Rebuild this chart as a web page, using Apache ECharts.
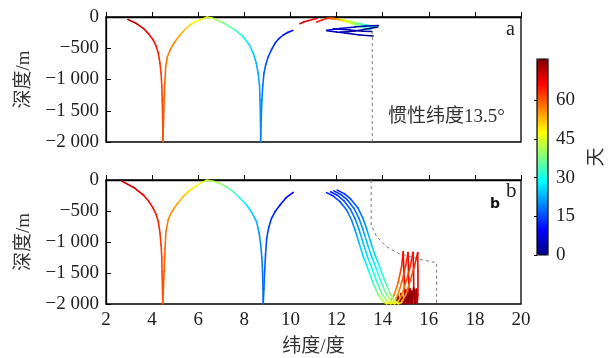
<!DOCTYPE html>
<html>
<head>
<meta charset="utf-8">
<script src="https://cdn.jsdelivr.net/npm/echarts@6/dist/echarts.min.js"></script>
<style>
  html, body { margin: 0; padding: 0; background: #fff; }
  #main { width: 614px; height: 358px; }
</style>
</head>
<body>
<div id="main"></div>
<script>
// 纬度/度, 深度/m, 天
var latTicks = [2, 20, 2];          // min, max, interval
var depthTicks = [-2000, 0, 500];
var dayTicks = [0, 15, 30, 45, 60];
var dayMax = 76;

// 图a: 惯性纬度13.5°
var aMain = [
  [2.95,-40,72],[3.3,-100,71],[3.62,-181,69],[3.85,-270,67],[4.05,-368,66],[4.18,-470,65],[4.27,-581,64],
  [4.34,-740,63],[4.39,-901,62.5],[4.42,-1100,62],[4.44,-1328,61.5],[4.46,-1650,61],[4.47,-1995,60.5],
  [4.5,-1600,60],[4.52,-1328,59.5],[4.55,-1050,59],[4.59,-795,58],[4.66,-640,57.5],[4.78,-528,57],
  [4.98,-400,56],[5.21,-288,54],[5.42,-200,52],[5.64,-128,50],[5.86,-80,48],[6.08,-48,47],[6.37,-2,45],
  [6.6,-15,43],[6.8,-48,41],[7.1,-95,38],[7.38,-155,36],[7.68,-230,33],[7.95,-315,30],[8.2,-440,27],
  [8.39,-581,25],[8.52,-740,23],[8.6,-901,22],[8.66,-1100,21.5],[8.68,-1328,21],[8.7,-1650,20.5],[8.71,-1995,20],
  [8.73,-1650,19.5],[8.76,-1328,19],[8.8,-1100,18],[8.85,-901,17],[8.93,-760,16],[9.04,-635,15],
  [9.18,-520,14],[9.33,-421,13],[9.5,-345,12],[9.69,-288,11],[9.9,-245,10],[10.1,-215,9]
];
var aRed1 = [[10.41,-107,70],[10.6,-75,69],[10.76,-59,68],[11.0,-35,67],[11.14,-27,66]];
var aRain1 = [[11.14,-80,66],[11.37,-48,64],[11.57,-24,62],[11.75,-20,58],[11.93,-27,54],[12.2,-40,50],
  [12.44,-56,47],[12.62,-72,43],[12.8,-88,40],[13.05,-108,35],[13.3,-128,30],[13.5,-142,26],[13.7,-152,23]];
var aRain2 = [[11.6,-20,63],[11.9,-25,57],[12.2,-45,51],[12.44,-75,46],[12.75,-100,41],[13.01,-120,36],
  [13.3,-148,31],[13.53,-168,27]];
var aRain3 = [[11.7,-22,62],[12.0,-35,55],[12.3,-60,49],[12.6,-95,44],[12.9,-140,38],[13.2,-175,33],[13.49,-200,29]];
var aBlue1 = [[11.57,-213,7],[12.15,-184,6],[12.8,-160,4],[13.27,-144,3],[13.81,-136,2]];
var aBlue2 = [[11.57,-219,6],[12.0,-240,5],[12.36,-256,4],[13.01,-288,3],[13.59,-304,1]];
var aBlue3 = [[11.86,-187,5],[12.58,-208,4],[13.14,-229,2],[13.52,-232,1]];
var aBlue4 = [[12.15,-240,4],[12.5,-235,3],[12.8,-224,3],[13.44,-184,1],[13.79,-160,0]];
var aDash = [[13.55,-130],[13.55,-2000]];

// 图b
var bMain = [
  [2.68,-15,71],[3.2,-120,70],[3.62,-242,68],[3.85,-340,67],[4.05,-457,66],[4.18,-560,65],[4.27,-672,64],
  [4.34,-850,63],[4.39,-1048,62.5],[4.42,-1250,62],[4.43,-1479,61.5],[4.45,-1750,61],[4.46,-2000,60.5],
  [4.49,-1750,60],[4.52,-1479,59.5],[4.56,-1100,59],[4.6,-834,58],[4.7,-640,57],[4.85,-511,56],
  [5.1,-380,54],[5.35,-269,52],[5.6,-180,50],[5.86,-108,48],[6.1,-50,46],[6.37,-3,44],
  [6.65,-20,42],[6.94,-54,40],[7.23,-110,37],[7.52,-188,34],[7.8,-290,31],[8.1,-403,28],[8.33,-530,25],
  [8.53,-672,23],[8.64,-850,21],[8.71,-1048,20],[8.76,-1250,19],[8.79,-1479,18.5],[8.81,-1750,18],[8.82,-2000,17.5],
  [8.85,-1750,17],[8.88,-1479,16.5],[8.92,-1200,16],[8.97,-940,15],[9.06,-760,14],[9.18,-618,13],
  [9.35,-500,12],[9.55,-403,11],[9.8,-290,10],[10.12,-200,9]
];
var bRay1 = [[11.57,-204,11],[11.86,-258,13],[12.15,-350,15],[12.44,-484,17],[12.65,-645,19],[12.8,-807,21],
  [12.98,-1021,24],[13.16,-1237,26],[13.38,-1452,29],[13.59,-1667,33],[13.81,-1855,38],[14.03,-1963,43],
  [14.17,-1995,47],[14.32,-1975,52],[14.5,-1850,56],[14.68,-1640,60],[14.82,-1398,63],[14.89,-1160,66],
  [14.92,-1450,68],[14.95,-1800,69],[14.98,-1960,70],[15.01,-1780,71],[15.04,-1990,72],[15.07,-1800,72],
  [15.1,-1985,73],[15.0,-1820,73],[14.9,-1990,74],[14.8,-1830,74],[14.72,-1995,75],[14.66,-1860,75],[14.6,-1995,75]];
var bRay2 = [[11.74,-190,11],[12.03,-245,13],[12.32,-335,15],[12.6,-470,17],[12.81,-630,19],[12.97,-795,21],
  [13.15,-1010,24],[13.33,-1225,26],[13.55,-1440,29],[13.76,-1655,33],[13.98,-1845,38],[14.2,-1960,43],
  [14.34,-1995,47],[14.48,-1975,52],[14.66,-1850,56],[14.85,-1620,60],[15.0,-1380,63],[15.1,-1170,66],
  [15.12,-1460,68],[15.14,-1820,69],[15.17,-1970,70],[15.2,-1770,71],[15.23,-1990,72],[15.26,-1790,72],
  [15.29,-1985,73],[15.18,-1800,73],[15.08,-1990,74],[14.98,-1810,74],[14.88,-1995,75],[14.8,-1850,75],[14.74,-1990,75]];
var bRay3 = [[11.88,-175,11],[12.18,-232,13],[12.47,-322,15],[12.76,-458,17],[12.97,-618,19],[13.13,-782,21],
  [13.31,-998,24],[13.5,-1212,26],[13.72,-1428,29],[13.93,-1645,33],[14.15,-1838,38],[14.37,-1958,43],
  [14.51,-1995,47],[14.65,-1975,52],[14.83,-1850,56],[15.03,-1620,60],[15.2,-1390,63],[15.32,-1165,66],
  [15.34,-1470,68],[15.35,-1830,69],[15.37,-1975,70],[15.4,-1780,71],[15.43,-1990,72],[15.35,-1790,73],
  [15.27,-1990,73],[15.19,-1760,74],[15.11,-1995,74],[15.03,-1780,75],[14.95,-1995,75]];
var bRay4 = [[12.03,-163,11],[12.33,-220,13],[12.62,-310,15],[12.92,-446,17],[13.13,-606,19],[13.29,-770,21],
  [13.47,-986,24],[13.66,-1200,26],[13.88,-1416,29],[14.1,-1633,33],[14.32,-1830,38],[14.54,-1955,43],
  [14.68,-1995,47],[14.82,-1975,52],[15.0,-1850,56],[15.2,-1620,60],[15.38,-1390,63],[15.52,-1170,66],
  [15.53,-1480,68],[15.53,-1850,70],[15.5,-1980,71],[15.46,-1760,72],[15.42,-1990,73],[15.34,-1740,74],
  [15.26,-1990,74],[15.18,-1800,75],[15.1,-1990,75]];
var bDash = [[13.5,0],[13.5,-726],[13.74,-914],[14.17,-1076],[14.68,-1182],[15.6,-1280],[16.34,-1334],[16.34,-2000]];

var jet = ['#00007f','#0000ff','#007fff','#00ffff','#7fff7f','#ffff00','#ff7f00','#ff0000','#7f0000'];
var serif = "'Liberation Serif', 'Noto Sans CJK SC', serif";

var chart = echarts.init(document.getElementById('main'));

var segColors = {};
function pathRender(pts) {
  return function (params, api) {
    var key = params.seriesIndex, i = params.dataIndex;
    var c = api.visual('color');
    (segColors[key] = segColors[key] || [])[i] = c;
    if (i === 0) return;
    var p0 = api.coord([pts[i - 1][0], pts[i - 1][1]]);
    var p1 = api.coord([api.value(0), api.value(1)]);
    var c0 = segColors[key][i - 1] || c;
    return {
      type: 'line',
      silent: true,
      shape: { x1: p0[0], y1: p0[1], x2: p1[0], y2: p1[1] },
      style: {
        stroke: new echarts.graphic.LinearGradient(p0[0], p0[1], p1[0], p1[1],
          [{ offset: 0, color: c0 }, { offset: 1, color: c }], true),
        lineWidth: 1.6, lineCap: 'round'
      }
    };
  };
}

var series = [];
var pathIdx = [];
function addPath(pts, g) {
  pathIdx.push(series.length);
  series.push({
    type: 'custom', xAxisIndex: g, yAxisIndex: g, data: pts,
    encode: { x: 0, y: 1 }, renderItem: pathRender(pts), z: 3
  });
}
function addDash(pts, g) {
  series.push({
    type: 'line', xAxisIndex: g, yAxisIndex: g, data: pts, showSymbol: false, silent: true,
    lineStyle: { type: [3, 3], color: '#777', width: 1 }, z: 2
  });
}
[aMain, aRed1, aRain1, aRain2, aRain3, aBlue1, aBlue2, aBlue3, aBlue4].forEach(function (p) { addPath(p, 0); });
[bMain, bRay1, bRay2, bRay3, bRay4].forEach(function (p) { addPath(p, 1); });
addDash(aDash, 0);
addDash(bDash, 1);

function depthLabel(v) {
  if (v === 0) return '0';
  var s = String(Math.abs(v));
  if (s.length > 3) s = s.slice(0, -3) + ' ' + s.slice(-3);
  return '\u2212' + s;
}

function xAx(g, showLabel) {
  return {
    type: 'value', gridIndex: g, min: latTicks[0], max: latTicks[1], interval: latTicks[2],
    splitLine: { show: false },
    axisLine: { lineStyle: { color: '#000', width: 1.3 } },
    axisTick: { inside: true, length: 5, lineStyle: { color: '#000' } },
    axisLabel: { show: showLabel, color: '#222', fontSize: 19, fontFamily: serif, margin: 7 },
    name: showLabel ? '纬度/度' : '', nameLocation: 'middle', nameGap: 34,
    nameTextStyle: { color: '#333', fontSize: 19, fontFamily: serif }
  };
}
function yAx(g) {
  return {
    type: 'value', gridIndex: g, min: depthTicks[0], max: depthTicks[1], interval: depthTicks[2],
    splitLine: { show: false },
    axisLine: { lineStyle: { color: '#000', width: 1.3 } },
    axisTick: { inside: true, length: 5, lineStyle: { color: '#000' } },
    axisLabel: { color: '#222', fontSize: 19, fontFamily: serif, margin: 7, formatter: depthLabel },
    name: '深度/m', nameLocation: 'middle', nameGap: 72, nameRotate: 90,
    nameTextStyle: { color: '#333', fontSize: 19, fontFamily: serif }
  };
}

chart.setOption({
  animation: false,
  grid: [
    { left: 106, top: 17, width: 415, height: 125, show: true, borderColor: '#000', borderWidth: 1.3 },
    { left: 106, top: 180, width: 415, height: 124, show: true, borderColor: '#000', borderWidth: 1.3 },
    { left: 537, top: 59, width: 11, height: 196, show: true, borderColor: '#000', borderWidth: 1.2, z: 10 }
  ],
  xAxis: [
    xAx(0, false), xAx(1, true),
    { type: 'value', gridIndex: 2, min: 0, max: 1, show: false }
  ],
  yAxis: [
    yAx(0), yAx(1),
    {
      type: 'value', gridIndex: 2, position: 'right', min: 0, max: dayMax, z: 10,
      splitLine: { show: false }, axisLine: { show: false },
      axisTick: { inside: true, length: 3, customValues: dayTicks, lineStyle: { color: '#000' } },
      axisLabel: { customValues: dayTicks, color: '#222', fontSize: 19, fontFamily: serif, margin: 8 },
      name: '天', nameLocation: 'middle', nameGap: 40, nameRotate: 90,
      nameTextStyle: { color: '#333', fontSize: 19, fontFamily: serif }
    }
  ],
  visualMap: {
    type: 'continuous', min: 0, max: dayMax, dimension: 2, seriesIndex: pathIdx,
    calculable: false, hoverLink: false, left: 537, top: 59, itemWidth: 11, itemHeight: 196,
    padding: 0, inRange: { color: jet }, z: 4
  },
  graphic: [
    { type: 'text', left: 506, top: 20, style: { text: 'a', font: "20px 'Liberation Serif'", fill: '#222' } },
    { type: 'text', left: 506, top: 181, style: { text: 'b', font: "21px 'Liberation Serif'", fill: '#222' } },
    { type: 'text', left: 490, top: 197, style: { text: 'b', font: "bold 14px 'DejaVu Sans'", fill: '#111' } },
    { type: 'text', left: 388, top: 108, style: { text: '惯性纬度13.5°', font: "19px 'Liberation Serif', 'Noto Sans CJK SC'", fill: '#333' } }
  ],
  series: series
});
</script>
</body>
</html>
